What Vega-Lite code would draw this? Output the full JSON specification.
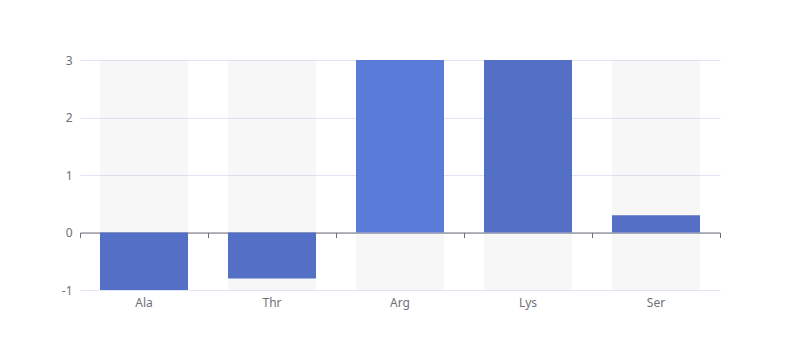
{
  "$schema": "https://vega.github.io/schema/vega-lite/v6.json",
  "width": 640,
  "height": 230,
  "autosize": "none",
  "padding": {"left": 80, "top": 60, "right": 80, "bottom": 70},
  "config": {
    "view": {"stroke": null},
    "font": "Noto Sans",
    "axis": {"labelColor": "#6e7079", "labelFontSize": 12, "titleFontSize": 12}
  },
  "data": {
    "values": [
      {"name": "Ala", "value": -1},
      {"name": "Thr", "value": -0.8},
      {"name": "Arg", "value": 3},
      {"name": "Lys", "value": 3},
      {"name": "Ser", "value": 0.3}
    ]
  },
  "layer": [
    {
      "mark": {"type": "bar", "fill": "#b4b4b4", "opacity": 0.1},
      "encoding": {
        "x": {
          "field": "name",
          "type": "nominal",
          "sort": null,
          "scale": {"paddingInner": 0.3125, "paddingOuter": 0.15625},
          "axis": {
            "orient": "bottom",
            "title": null,
            "domain": false,
            "ticks": false,
            "labelAngle": 0,
            "labelPadding": 7,
            "grid": false
          }
        },
        "y": {
          "datum": 3,
          "type": "quantitative",
          "scale": {"domain": [-1, 3], "nice": false, "zero": false},
          "axis": {
            "title": null,
            "values": [-1, 0, 1, 2, 3],
            "labelExpr": "'' + datum.value",
            "domain": false,
            "ticks": false,
            "labelPadding": 8,
            "gridColor": "#e0e6f1",
            "grid": true
          }
        },
        "y2": {"datum": -1}
      }
    },
    {
      "mark": {"type": "bar"},
      "encoding": {
        "x": {
          "field": "name",
          "type": "nominal",
          "sort": null,
          "scale": {"paddingInner": 0.3125, "paddingOuter": 0.15625},
          "axis": null
        },
        "y": {"field": "value", "type": "quantitative"},
        "y2": {"datum": 0},
        "color": {
          "condition": {"test": "datum.name === 'Arg'", "value": "#5b7bd8"},
          "value": "#5470c6"
        }
      }
    },
    {
      "mark": {"type": "rule", "opacity": 0},
      "encoding": {
        "x": {
          "field": "name",
          "type": "nominal",
          "sort": null,
          "scale": {"paddingInner": 0, "paddingOuter": 0},
          "axis": {
            "orient": "bottom",
            "offset": -57.5,
            "title": null,
            "labels": false,
            "domain": true,
            "domainColor": "#6e7079",
            "ticks": true,
            "tickBand": "extent",
            "tickColor": "#6e7079",
            "tickSize": 5,
            "grid": false
          }
        },
        "y": {"datum": 0, "type": "quantitative"}
      }
    }
  ],
  "resolve": {"scale": {"x": "independent"}, "axis": {"x": "independent"}}
}
